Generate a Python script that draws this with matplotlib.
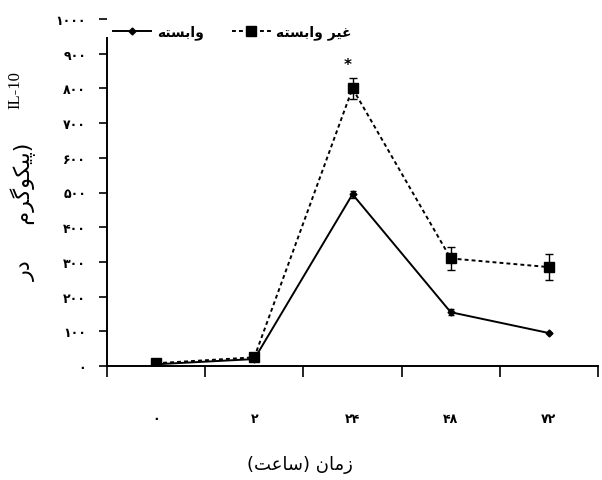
import matplotlib
matplotlib.use("Agg")
import matplotlib.pyplot as plt
from matplotlib.lines import Line2D

# ---------------- data ----------------
time_labels = ["۰", "۲", "۲۴", "۴۸", "۷۲"]          # hours
dependent = [5, 20, 495, 155, 95]                    # وابسته
dependent_err = [0, 0, 10, 8, 0]
non_dependent = [8, 25, 800, 310, 285]               # غیر وابسته
non_dependent_err = [0, 0, 30, 32, 38]
y_ticks = [0, 100, 200, 300, 400, 500, 600, 700, 800, 900, 1000]
star_value = 870

name_dep = "وابسته"
name_nondep = "غیر وابسته"
x_title = "زمان (ساعت)"
y_title_fa = "(پیکوگرم     در"
y_title_en = "IL-10"

# ------------- simple Persian shaping (presentation forms + visual order) -------------
FORMS = {
    'ا': ('\uFE8D', '\uFE8E', None, None),
    'ب': ('\uFE8F', '\uFE90', '\uFE91', '\uFE92'),
    'ت': ('\uFE95', '\uFE96', '\uFE97', '\uFE98'),
    'د': ('\uFEA9', '\uFEAA', None, None),
    'ر': ('\uFEAD', '\uFEAE', None, None),
    'ز': ('\uFEAF', '\uFEB0', None, None),
    'س': ('\uFEB1', '\uFEB2', '\uFEB3', '\uFEB4'),
    'ع': ('\uFEC9', '\uFECA', '\uFECB', '\uFECC'),
    'غ': ('\uFECD', '\uFECE', '\uFECF', '\uFED0'),
    'م': ('\uFEE1', '\uFEE2', '\uFEE3', '\uFEE4'),
    'ن': ('\uFEE5', '\uFEE6', '\uFEE7', '\uFEE8'),
    'ه': ('\uFEE9', '\uFEEA', '\uFEEB', '\uFEEC'),
    'و': ('\uFEED', '\uFEEE', None, None),
    'ی': ('\uFBFC', '\uFBFD', '\uFBFE', '\uFBFF'),
    'پ': ('\uFB56', '\uFB57', '\uFB58', '\uFB59'),
    'ک': ('\uFB8E', '\uFB8F', '\uFB90', '\uFB91'),
    'گ': ('\uFB92', '\uFB93', '\uFB94', '\uFB95'),
}
MIRROR = {'(': ')', ')': '('}


def fa(s):
    out = []
    n = len(s)
    for i, ch in enumerate(s):
        if ch not in FORMS:
            out.append(MIRROR.get(ch, ch))
            continue
        iso, fin, ini, med = FORMS[ch]
        prev = s[i - 1] if i > 0 else None
        nxt = s[i + 1] if i < n - 1 else None
        prev_joins = prev in FORMS and FORMS[prev][2] is not None
        next_joins = nxt in FORMS and ini is not None
        if prev_joins and next_joins:
            out.append(med)
        elif prev_joins:
            out.append(fin)
        elif next_joins:
            out.append(ini)
        else:
            out.append(iso)
    return "".join(reversed(out))


FA_FONT = ["DejaVu Sans", "Noto Sans"]

# ---------------- figure ----------------
fig = plt.figure(figsize=(6.02, 4.81), dpi=100)
ax = fig.add_axes([107 / 602, 1 - 367 / 481, 491 / 602, 347 / 481])

xs = [i + 0.5 for i in range(len(time_labels))]

ax.errorbar(xs, dependent, yerr=dependent_err, color="black", lw=1.4,
            marker="D", ms=3.5, capsize=2.5, elinewidth=1.0)
ax.errorbar(xs, non_dependent, yerr=non_dependent_err, color="black", lw=1.4,
            ls=(0, (2, 1.6)), marker="s", ms=7, capsize=3, elinewidth=1.0)

ax.text(xs[2] - 0.05, star_value, "*", ha="center", va="center",
        fontsize=11, fontweight="bold")

ax.set_xlim(0, 5)
ax.set_ylim(0, 1000)

for s in ["top", "right"]:
    ax.spines[s].set_visible(False)
ax.spines["left"].set_bounds(0, 945)
ax.spines["left"].set_linewidth(1.4)
ax.spines["bottom"].set_linewidth(1.4)

ax.set_yticks(y_ticks)
ax.set_yticklabels([str(v).translate(str.maketrans("0123456789", "۰۱۲۳۴۵۶۷۸۹"))
                    for v in y_ticks], fontsize=9, fontweight="bold",
                   family=FA_FONT)
ax.tick_params(axis="y", direction="out", length=6, width=1.2, pad=9)

ax.set_xticks(range(0, 6))
ax.set_xticklabels([])
ax.tick_params(axis="x", which="major", direction="out", length=8, width=1.2)
ax.set_xticks(xs, minor=True)
ax.set_xticklabels(time_labels, minor=True, fontsize=9, fontweight="bold",
                   family=FA_FONT)
ax.tick_params(axis="x", which="minor", length=0, pad=33)

handles = [
    Line2D([], [], color="black", lw=1.4, marker="D", ms=3.5),
    Line2D([], [], color="black", lw=1.4, ls=(0, (2, 1.6)), marker="s", ms=7),
]
leg = ax.legend(handles, [fa(name_dep), fa(name_nondep)], loc="upper left",
                bbox_to_anchor=(0.0, 1.0), borderaxespad=0.0, ncol=2,
                frameon=False, handlelength=2.8, columnspacing=2.0,
                handletextpad=0.4, prop={"family": FA_FONT, "size": 10,
                                         "weight": "bold"})

fig.text(300 / 602, 1 - 465 / 481, fa(x_title), ha="center", va="center",
         fontsize=13, family=FA_FONT)
fig.text(15 / 602, 1 - 90 / 481, y_title_en, rotation=90, ha="center",
         va="center", fontsize=12, family=["Liberation Serif"])
fig.text(24 / 602, 1 - 212 / 481, fa(y_title_fa), rotation=90, ha="center",
         va="center", fontsize=16, family=FA_FONT)

fig.savefig("out.png", dpi=100)
